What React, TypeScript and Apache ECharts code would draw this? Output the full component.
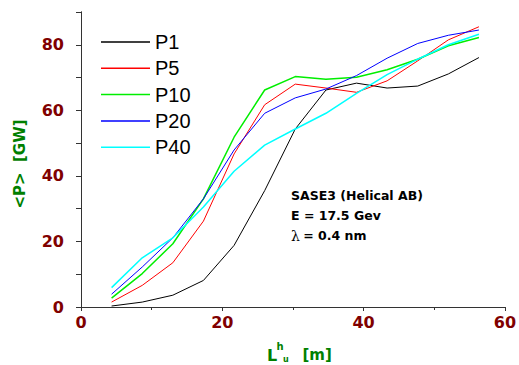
import React, { useEffect, useRef } from "react";
import * as echarts from "echarts";

const undulatorLength = [4.33, 8.67, 13, 17.33, 21.67, 26, 30.33, 34.67, 39, 43.33, 47.67, 52, 56.33];
const p1 = [0.3, 1.5, 3.6, 8.1, 18.8, 35.5, 54.3, 66.2, 68.3, 66.8, 67.4, 71.1, 76.1];
const p5 = [1.5, 6.6, 13.5, 26.2, 46.7, 61.7, 68.0, 66.8, 65.5, 69.0, 75.1, 81.5, 85.5];
const p10 = [2.7, 10.2, 19.3, 33.0, 51.8, 66.2, 70.3, 69.5, 70.1, 72.4, 75.6, 79.7, 82.2];
const p20 = [3.9, 12.2, 21.1, 33.0, 47.9, 59.1, 63.8, 66.5, 70.6, 75.9, 80.4, 82.9, 84.5];
const p40 = [5.9, 15.0, 21.1, 30.5, 41.4, 49.4, 54.3, 59.1, 65.2, 70.9, 75.6, 80.0, 83.2];

const seriesNames = ["P1", "P5", "P10", "P20", "P40"];
const seriesValues = [p1, p5, p10, p20, p40];
const seriesColors = ["#000000", "#ff0000", "#00ee00", "#0000ff", "#00ffff"];
const seriesWidths = [1, 1, 1.5, 1, 1.5];

const annotationLines = ["SASE3 (Helical AB)", "E = 17.5 Gev", "= 0.4 nm"];

const tickColor = "#800000";
const nameColor = "#008000";
const frameColor = "#333333";
const font = "DejaVu Sans";

export default function App() {
  const ref = useRef<HTMLDivElement>(null);
  useEffect(() => {
    if (!ref.current) return;
    const chart = echarts.init(ref.current, undefined, { renderer: "svg" });
    const labelStyle = {
      color: tickColor,
      fontFamily: font,
      fontWeight: "bold" as const,
      fontSize: 16,
    };
    chart.setOption({
      animation: false,
      backgroundColor: "#ffffff",
      grid: { left: 81, right: 2, top: 12, bottom: 58, containLabel: false },
      legend: {
        orient: "vertical",
        left: 101,
        top: 32,
        padding: 0,
        icon: "rect",
        itemWidth: 49,
        itemHeight: 1.5,
        itemGap: 6.3,
        data: seriesNames,
        textStyle: { fontFamily: "Liberation Sans", fontSize: 20, color: "#000", lineHeight: 20 },
      },
      xAxis: [
        {
          type: "value",
          position: "bottom",
          min: 0,
          max: 60,
          interval: 20,
          axisLine: { show: true, lineStyle: { color: frameColor, width: 1 } },
          axisTick: { show: true, inside: false, length: 4, lineStyle: { color: frameColor } },
          minorTick: { show: true, splitNumber: 2, length: 3, lineStyle: { color: frameColor } },
          axisLabel: { ...labelStyle, margin: 7, alignMaxLabel: "center", alignMinLabel: "center", hideOverlap: false },
          splitLine: { show: false },
          minorSplitLine: { show: false },
        },
        {
          type: "value",
          position: "top",
          min: 0,
          max: 60,
          interval: 10,
          axisLine: { show: true, lineStyle: { color: frameColor, width: 1 } },
          axisTick: { show: true, inside: true, length: 3, lineStyle: { color: frameColor } },
          axisLabel: { show: false },
          splitLine: { show: false },
        },
      ],
      yAxis: [
        {
          type: "value",
          position: "left",
          min: 0,
          max: 90,
          interval: 10,
          axisLine: { show: true, lineStyle: { color: frameColor, width: 1 } },
          axisTick: { show: true, inside: false, length: 4, lineStyle: { color: frameColor } },
          axisLabel: {
            ...labelStyle,
            margin: 17,
            formatter: (v: number) => (v % 20 === 0 ? String(v) : ""),
          },
          splitLine: { show: false },
        },
        {
          type: "value",
          position: "right",
          min: 0,
          max: 90,
          interval: 10,
          axisLine: { show: true, lineStyle: { color: frameColor, width: 1 } },
          axisTick: { show: true, inside: true, length: 5, lineStyle: { color: frameColor } },
          axisLabel: { show: false },
          splitLine: { show: false },
        },
      ],
      series: seriesNames.map((name, i) => ({
        name,
        type: "line",
        xAxisIndex: 0,
        yAxisIndex: 0,
        symbol: "none",
        showSymbol: false,
        color: seriesColors[i],
        lineStyle: { color: seriesColors[i], width: seriesWidths[i] },
        data: undulatorLength.map((x, k) => [x, seriesValues[i][k]]),
      })),
      graphic: [
        {
          type: "text",
          x: 20,
          y: 164,
          rotation: Math.PI / 2,
          style: {
            text: "<P>  [GW]",
            fill: nameColor,
            font: `bold 15px "${font}"`,
            align: "center",
            verticalAlign: "middle",
          },
        },
        {
          type: "text",
          x: 267,
          y: 355,
          style: { text: "L", fill: nameColor, font: `bold 16px "${font}"`, align: "left", verticalAlign: "middle" },
        },
        {
          type: "text",
          x: 276.5,
          y: 346,
          style: { text: "h", fill: nameColor, font: `bold 10px "${font}"`, align: "left", verticalAlign: "middle" },
        },
        {
          type: "text",
          x: 283,
          y: 359.5,
          style: { text: "u", fill: nameColor, font: `bold 8px "${font}"`, align: "left", verticalAlign: "middle" },
        },
        {
          type: "text",
          x: 302.5,
          y: 355,
          style: { text: "[m]", fill: nameColor, font: `bold 15px "${font}"`, align: "left", verticalAlign: "middle" },
        },
        {
          type: "text",
          x: 291,
          y: 195,
          style: { text: annotationLines[0], fill: "#000", font: `bold 12.5px "${font}"`, verticalAlign: "middle" },
        },
        {
          type: "text",
          x: 291,
          y: 215,
          style: { text: annotationLines[1], fill: "#000", font: `bold 12.5px "${font}"`, verticalAlign: "middle" },
        },
        {
          type: "text",
          x: 291,
          y: 235.5,
          style: {
            text: "{l|λ} {b|" + annotationLines[2] + "}",
            fill: "#000",
            verticalAlign: "middle",
            rich: {
              l: { fontFamily: "DejaVu Serif", fontSize: 14, fill: "#000" },
              b: { fontFamily: font, fontWeight: "bold", fontSize: 12.5, fill: "#000" },
            },
          },
        },
      ],
    });
    return () => chart.dispose();
  }, []);
  return (
    <div
      ref={ref}
      style={{ position: "fixed", left: 0, top: 0, width: 519, height: 365, background: "#fff" }}
    />
  );
}
